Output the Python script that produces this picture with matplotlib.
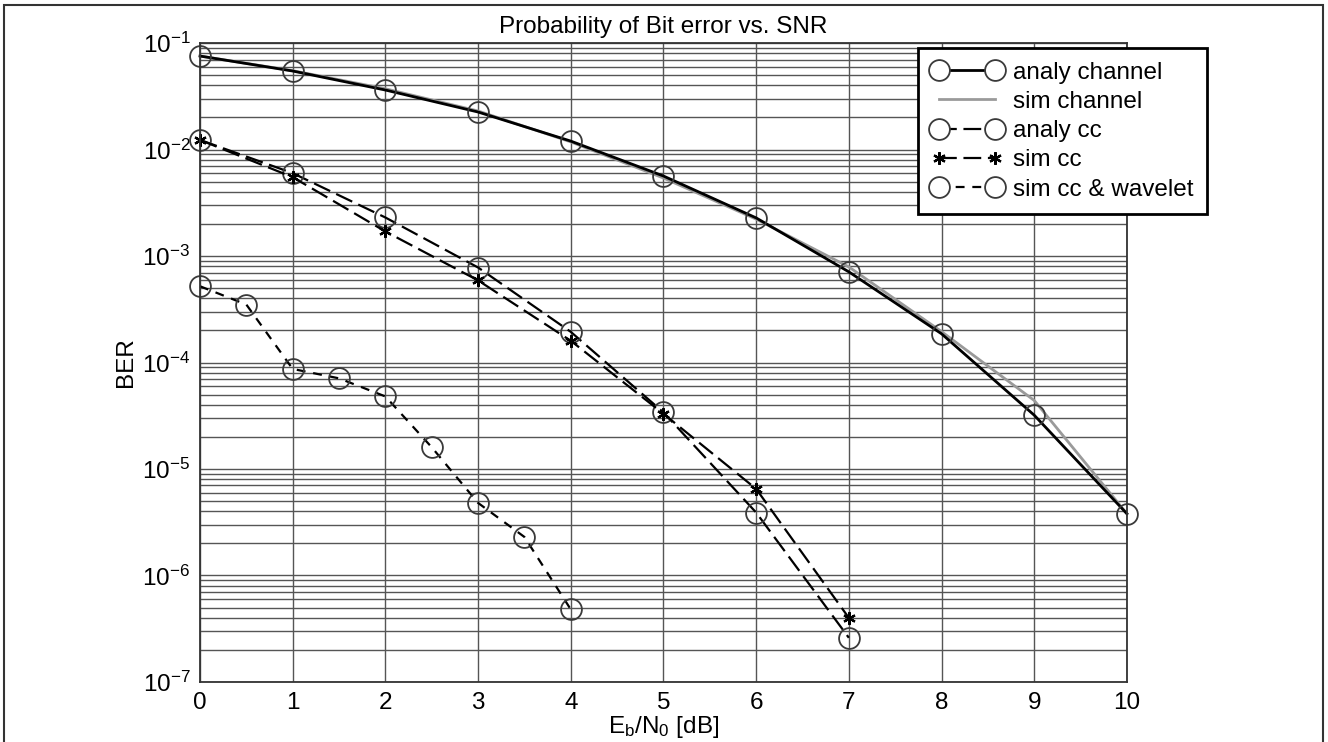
import numpy as np
import matplotlib.pyplot as plt
from matplotlib.patches import Rectangle

plt.rcParams['font.family'] = ['Liberation Sans', 'DejaVu Sans']
plt.rcParams['mathtext.fontset'] = 'custom'
plt.rcParams['mathtext.rm'] = 'Liberation Sans'
plt.rcParams['mathtext.it'] = 'Liberation Sans'
plt.rcParams['mathtext.default'] = 'regular'

# data
snr = [0, 1, 2, 3, 4, 5, 6, 7, 8, 9, 10]
analy_channel = [0.0755, 0.0546, 0.0362, 0.0225, 0.0120, 0.00564, 0.00228, 7.1e-4, 1.86e-4, 3.2e-5, 3.8e-6]
sim_channel = [0.0755, 0.0550, 0.0372, 0.0230, 0.0118, 0.0054, 0.00222, 7.9e-4, 1.95e-4, 4.4e-5, 3.8e-6]

snr_cc = [0, 1, 2, 3, 4, 5, 6, 7]
analy_cc = [0.0123, 0.0060, 0.0023, 7.8e-4, 1.94e-4, 3.4e-5, 3.9e-6, 2.6e-7]
sim_cc = [0.0123, 0.0055, 0.0017, 5.9e-4, 1.6e-4, 3.3e-5, 6.5e-6, 4.0e-7]

snr_wav = [0, 0.5, 1, 1.5, 2, 2.5, 3, 3.5, 4]
sim_wav = [5.2e-4, 3.5e-4, 8.7e-5, 7.1e-5, 4.8e-5, 1.6e-5, 4.8e-6, 2.3e-6, 4.8e-7]

fs = 17.5

fig = plt.figure(figsize=(13.28, 7.42), dpi=100)
ax = fig.add_axes([0.1506, 0.0809, 0.6980, 0.8611])

circ = dict(marker='o', markersize=15, markerfacecolor='none',
            markeredgecolor='#3a3a3a', markeredgewidth=1.3, clip_on=False)

ax.plot(snr, analy_channel, color='black', lw=2, label='analy channel', **circ)
ax.plot(snr, sim_channel, color='#9a9a9a', lw=2, label='sim channel', zorder=1.9)
ax.plot(snr_cc, analy_cc, color='black', lw=1.6, dashes=(8, 3), label='analy cc', **circ)
ax.plot(snr_cc, sim_cc, color='black', lw=1.6, dashes=(8, 3), marker=(6, 2, 0),
        markersize=9, markeredgewidth=1.6, label='sim cc', clip_on=False)
ax.plot(snr_wav, sim_wav, color='black', lw=1.6, dashes=(4, 3.5), label='sim cc & wavelet', **circ)

ax.set_yscale('log')
ax.set_xlim(0, 10)
ax.set_ylim(1e-7, 1e-1)
ax.set_xticks(range(0, 11))
ax.set_yticks([10.0 ** k for k in range(-7, 0)])
ax.yaxis.set_ticklabels([r'$10^{%d}$' % k for k in range(-7, 0)])
ax.tick_params(axis='both', which='both', length=0, labelsize=fs, pad=7)

ax.grid(True, which='major', axis='both', color='#555555', lw=1)
ax.grid(True, which='minor', axis='y', color='#555555', lw=1)
ax.set_axisbelow(True)
for s in ax.spines.values():
    s.set_color('#333333')
    s.set_linewidth(1.3)

ax.set_title('Probability of Bit error vs. SNR', fontsize=fs, pad=7)
ax.set_ylabel('BER', fontsize=fs, labelpad=4)
ax.set_xlabel(r'E$_b$/N$_0$ [dB]', fontsize=fs, labelpad=0)

leg = ax.legend(loc='upper right', bbox_to_anchor=(1.0863, 0.992), fontsize=fs,
                numpoints=2, handlelength=2.9, handletextpad=0.45, labelspacing=0.3,
                borderpad=0.55, borderaxespad=0, fancybox=False, framealpha=1)
leg.get_frame().set_edgecolor('black')
leg.get_frame().set_linewidth(2)
for h in leg.legend_handles:
    if h.get_marker() == 'o':
        h.set_markerfacecolor('white')

# outer frame of the figure
fig.patches.append(Rectangle((0.003, -0.01), 0.993, 1.003, transform=fig.transFigure,
                             fill=False, edgecolor='#333333', lw=1.5))

fig.savefig('out.png', dpi=100)
